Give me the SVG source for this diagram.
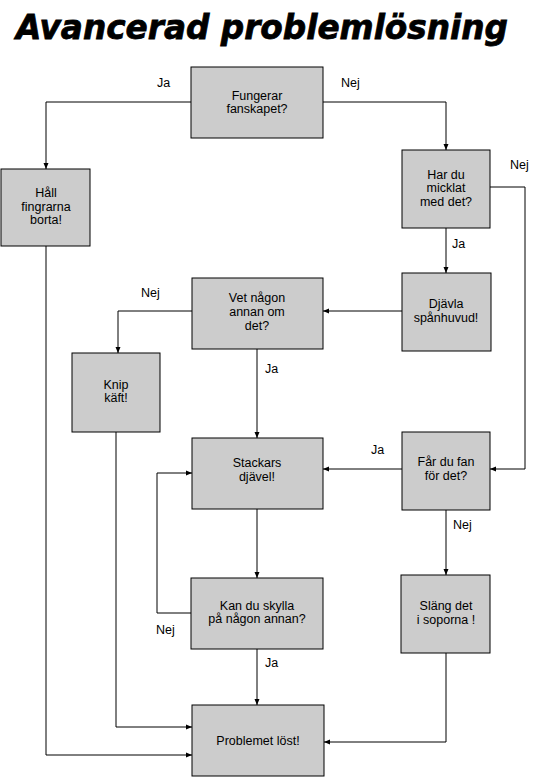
<svg xmlns="http://www.w3.org/2000/svg" width="534" height="777" viewBox="0 0 534 777">
<defs>
<style>
.box{fill:#cccccc;stroke:#000;stroke-width:1}
.t{font-family:"Liberation Sans",Arial,sans-serif;font-size:12.5px;fill:#000;text-anchor:middle}
.l{font-family:"Liberation Sans",Arial,sans-serif;font-size:12.5px;fill:#000}
.c{fill:none;stroke:#000;stroke-width:1;marker-end:url(#ah)}
</style>
<marker id="ah" viewBox="0 0 6 6" refX="6" refY="3" markerWidth="6" markerHeight="6" markerUnits="userSpaceOnUse" orient="auto">
<path d="M0,0.5 L6,3 L0,5.5 z" fill="#000"/>
</marker>
</defs>
<rect width="534" height="777" fill="#fff"/>
<text x="16" y="39" font-family="'DejaVu Sans',sans-serif" font-weight="bold" font-style="italic" font-size="34" stroke="#000" stroke-width="0.8" textLength="492" lengthAdjust="spacingAndGlyphs">Avancerad problemlösning</text>

<g id="connectors">
<path class="c" d="M191,102 H46 V169"/>
<path class="c" d="M323,102 H446 V150"/>
<path class="c" d="M490,187 H525 V469 H490"/>
<path class="c" d="M446,228 V273"/>
<path class="c" d="M402,311 H323"/>
<path class="c" d="M192,311 H118 V353"/>
<path class="c" d="M257,349 V438"/>
<path class="c" d="M402,469 H323"/>
<path class="c" d="M446,510 V575"/>
<path class="c" d="M257,509 V578"/>
<path class="c" d="M191,613 H157 V473 H192"/>
<path class="c" d="M257,649 V705"/>
<path class="c" d="M446,653 V742 H324"/>
<path class="c" d="M116,432 V727 H192"/>
<path class="c" d="M46,245 V755 H192"/>
</g>
<g id="labels">
<text class="l" x="157" y="87">Ja</text>
<text class="l" x="341" y="87">Nej</text>
<text class="l" x="510" y="169">Nej</text>
<text class="l" x="452" y="248">Ja</text>
<text class="l" x="141" y="297">Nej</text>
<text class="l" x="265" y="373">Ja</text>
<text class="l" x="371" y="454">Ja</text>
<text class="l" x="453" y="529">Nej</text>
<text class="l" x="156" y="634">Nej</text>
<text class="l" x="265" y="667">Ja</text>
</g>

<g id="n1"><rect class="box" x="191" y="67" width="132" height="71"/><text class="t" x="257" y="100">Fungerar</text><text class="t" x="257" y="113">fanskapet?</text></g>
<g id="n2"><rect class="box" x="1" y="169" width="89" height="77"/><text class="t" x="46" y="197">Håll</text><text class="t" x="46" y="211">fingrarna</text><text class="t" x="46" y="224">borta!</text></g>
<g id="n3"><rect class="box" x="402" y="150" width="88" height="78"/><text class="t" x="446" y="179">Har du</text><text class="t" x="446" y="192">micklat</text><text class="t" x="446" y="206">med det?</text></g>
<g id="n4"><rect class="box" x="402" y="273" width="89" height="78"/><text class="t" x="446" y="308">Djävla</text><text class="t" x="446" y="322">spånhuvud!</text></g>
<g id="n5"><rect class="box" x="192" y="278" width="131" height="71"/><text class="t" x="257" y="302">Vet någon</text><text class="t" x="257" y="316">annan om</text><text class="t" x="257" y="330">det?</text></g>
<g id="n6"><rect class="box" x="72" y="353" width="88" height="79"/><text class="t" x="116" y="389">Knip</text><text class="t" x="116" y="402">käft!</text></g>
<g id="n7"><rect class="box" x="192" y="438" width="131" height="71"/><text class="t" x="257" y="467">Stackars</text><text class="t" x="257" y="481">djävel!</text></g>
<g id="n8"><rect class="box" x="402" y="432" width="88" height="78"/><text class="t" x="446" y="466">Får du fan</text><text class="t" x="446" y="480">för det?</text></g>
<g id="n9"><rect class="box" x="191" y="578" width="132" height="71"/><text class="t" x="257" y="610">Kan du skylla</text><text class="t" x="257" y="623">på någon annan?</text></g>
<g id="n10"><rect class="box" x="401" y="575" width="89" height="78"/><text class="t" x="446" y="610">Släng det</text><text class="t" x="446" y="624">i soporna !</text></g>
<g id="n11"><rect class="box" x="192" y="705" width="132" height="71"/><text class="t" x="258" y="745">Problemet löst!</text></g>
</svg>
